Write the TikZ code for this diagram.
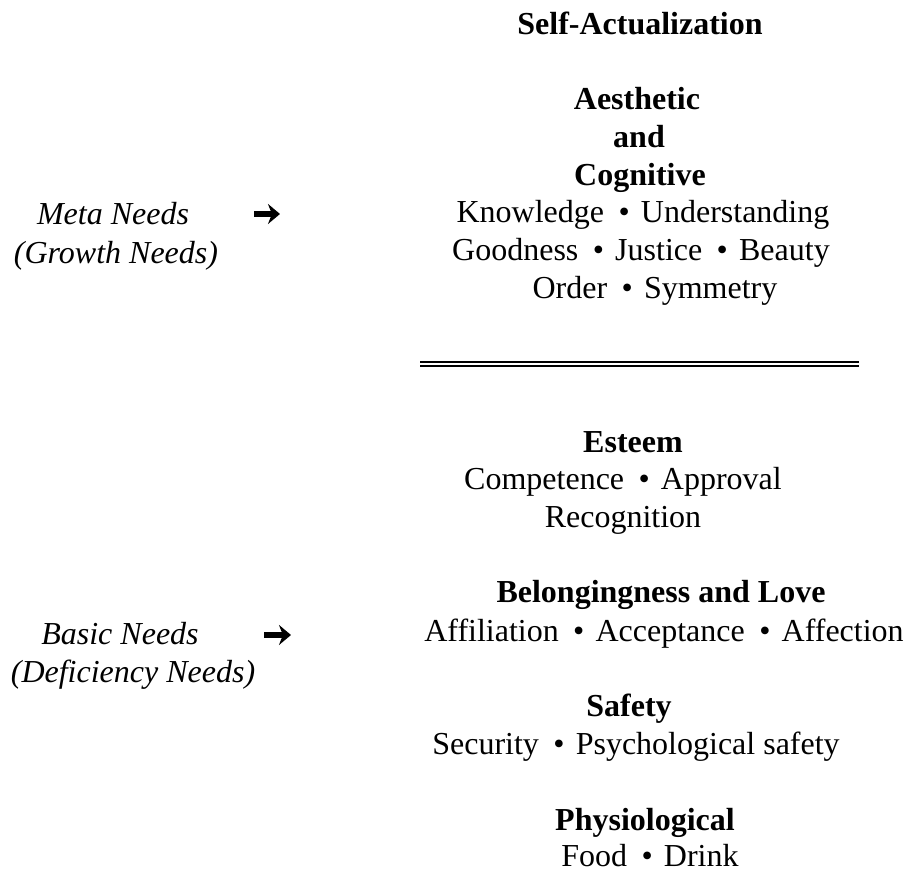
\documentclass[tikz,border=0pt]{standalone}
\usepackage{fontspec}
\setmainfont{Liberation Serif}
\usetikzlibrary{arrows.meta}
\newcommand{\needdot}{\hspace{0.45em}\textbullet\hspace{0.35em}}

\begin{document}
\begin{tikzpicture}[x=0.5pt,y=0.5pt,
    level/.style={font=\fontsize{16}{19}\selectfont\bfseries,inner sep=0pt,anchor=base},
    need/.style={font=\fontsize{16}{19}\selectfont,inner sep=0pt,anchor=base},
    group/.style={font=\fontsize{16}{19}\selectfont\itshape,inner sep=0pt,anchor=base},
    pointer/.style={line width=3.2pt,-{Stealth[length=6pt,width=10pt]}}]
    \useasboundingbox (0,0) rectangle (911,873);
    % growth needs
    \node[level] (self_act)  at (640,838) {Self-Actualization};
    \node[level] (aesthetic) at (637,763) {Aesthetic};
    \node[level] (and)       at (639,725) {and};
    \node[level] (cognitive) at (640,687) {Cognitive};
    \node[need]  (knowledge) at (643,650) {Knowledge\needdot Understanding};
    \node[need]  (goodness)  at (641,612) {Goodness\needdot Justice\needdot Beauty};
    \node[need]  (order)     at (655,574) {Order\needdot Symmetry};
    \coordinate (rule_l) at (420,509);
    \coordinate (rule_r) at (859,509);
    \draw[double,double distance=1.3pt,line width=0.9pt] (rule_l) -- (rule_r);
    % deficiency needs
    \node[level] (esteem)        at (633,420) {Esteem};
    \node[need]  (competence)    at (623,383) {Competence\needdot Approval};
    \node[need]  (recognition)   at (623,345) {Recognition};
    \node[level] (belonging)     at (661,270) {Belongingness and Love};
    \node[need]  (affiliation)   at (664,231) {Affiliation\needdot Acceptance\needdot Affection};
    \node[level] (safety)        at (629,156) {Safety};
    \node[need]  (security)      at (636,118) {Security\needdot Psychological safety};
    \node[level] (physiological) at (645,42)  {Physiological};
    \node[need]  (food)          at (650,6)   {Food\needdot Drink};
    % left labels
    \node[group] (meta)       at (113,648) {Meta Needs};
    \node[group] (growth)     at (116,609) {(Growth Needs)};
    \node[group] (basic)      at (120,228) {Basic Needs};
    \node[group] (deficiency) at (133,190) {(Deficiency Needs)};
    \coordinate (meta_tail)  at (254,659);
    \coordinate (meta_tip)   at (280,659);
    \coordinate (basic_tail) at (264,238);
    \coordinate (basic_tip)  at (291,238);
    \draw[pointer] (meta_tail) -- (meta_tip);
    \draw[pointer] (basic_tail) -- (basic_tip);
\end{tikzpicture}
\end{document}
